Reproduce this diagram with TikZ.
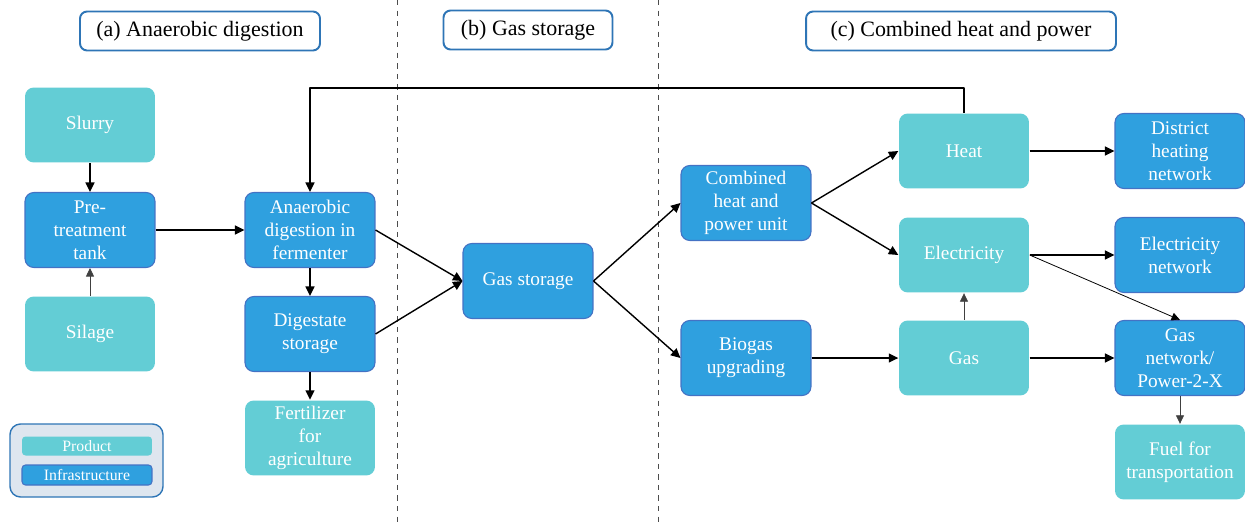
\documentclass[tikz,border=0pt]{standalone}
\usepackage{fontspec}
\setmainfont{Liberation Serif}
\newfontfamily\diagfont{Liberation Serif}
\usetikzlibrary{arrows.meta,positioning}
\definecolor{prodcol}{HTML}{63CDD5}
\definecolor{infcol}{HTML}{2FA0DF}
\definecolor{infedge}{HTML}{4472C4}
\definecolor{titleedge}{HTML}{2E75B6}
\definecolor{legfill}{HTML}{DEE6EF}
\tikzstyle{every path}=[line width=0.8pt,line join=round]
\tikzset{
  product/.style={fill=prodcol,rounded corners=5pt,minimum width=2.6cm,minimum height=1.5cm,
    text=white,align=center,font=\diagfont\fontsize{11}{13}\selectfont,inner sep=1pt},
  infra/.style={product,fill=infcol,draw=infedge,line width=0.6pt},
  titlebox/.style={draw=titleedge,line width=1.1pt,rounded corners=4pt,fill=white,
    minimum height=0.78cm,font=\diagfont\fontsize{12.5}{14}\selectfont},
  flow/.style={-{Triangle[length=1.9mm,width=1.8mm]}},
  thin/.style={-{Triangle[length=1.7mm,width=1.6mm]},line width=0.45pt},
}
\begin{document}
\begin{tikzpicture}[x=0.02cm,y=-0.02cm]
\useasboundingbox (0,0) rectangle (1245,524);

\draw[dashed,line width=0.5pt,black!70] (397,0) -- (397,524);
\draw[dashed,line width=0.5pt,black!70] (658,0) -- (658,524);

\node[titlebox,minimum width=4.8cm] (ta) at (200,31) {(a) Anaerobic digestion};
\node[titlebox,minimum width=3.38cm] (tb) at (528,30) {(b) Gas storage};
\node[titlebox,minimum width=6.2cm] (tc) at (961,31) {(c) Combined heat and power};

% (a)
\node[product] (slurry) at (90,125) {Slurry};
\node[infra] (pretank) at (90,230) {Pre-\\treatment\\tank};
\node[product] (silage) at (90,334) {Silage};
\node[infra] (anaer) at (310,230) {Anaerobic\\digestion in\\fermenter};
\node[infra] (digest) at (310,334) {Digestate\\storage};
\node[product] (fert) at (310,438) {Fertilizer\\for\\agriculture};

% legend
\draw[titleedge,fill=legfill,rounded corners=6pt,line width=0.8pt] (10,424) rectangle (163,497);
\node[product,minimum width=2.6cm,minimum height=0.38cm,rounded corners=2pt,
  font=\diagfont\fontsize{9}{10}\selectfont] (legprod) at (87,446) {Product};
\node[infra,minimum width=2.6cm,minimum height=0.4cm,rounded corners=2pt,
  font=\diagfont\fontsize{9}{10}\selectfont] (leginf) at (87,475) {Infrastructure};

% (b)
\node[infra] (gasstore) at (528,281) {Gas storage};

% (c)
\node[infra] (chp) at (746,203) {Combined\\heat and\\power unit};
\node[infra] (upgrade) at (746,358) {Biogas\\upgrading};
\node[product] (heat) at (964,151) {Heat};
\node[product] (elec) at (964,255) {Electricity};
\node[product] (gas) at (964,358) {Gas};
\node[infra] (district) at (1180,151) {District\\heating\\network};
\node[infra] (elecnet) at (1180,255) {Electricity\\network};
\node[infra] (gasnet) at (1180,358) {Gas\\network/\\Power-2-X};
\node[product] (fuel) at (1180,462) {Fuel for\\transportation};

\coordinate (top) at (0,88);

\draw[flow] (slurry) -- (pretank);
\draw[thin,black!75] (silage) -- (pretank);
\draw[flow] (pretank) -- (anaer);
\draw[flow] (anaer) -- (digest);
\draw[flow] (digest) -- (fert);
\draw[flow] (anaer.east) -- (gasstore.west);
\draw[flow] (digest.east) -- (gasstore.west);
\draw[flow] (gasstore.east) -- (chp.west);
\draw[flow] (gasstore.east) -- (upgrade.west);
\draw[flow] (chp.east) -- (heat.west);
\draw[flow] (chp.east) -- (elec.west);
\draw[flow] (heat) -- (district);
\draw[flow] (elec) -- (elecnet);
\draw[thin] (elec.east) -- (gasnet.north);
\draw[flow] (upgrade) -- (gas);
\draw[flow] (gas) -- (gasnet);
\draw[thin,black!75] (gas) -- (elec);
\draw[thin,black!75] (gasnet) -- (fuel);
\draw[flow] (heat.north) -- (heat.north |- top) -| (anaer.north);
\end{tikzpicture}
\end{document}
